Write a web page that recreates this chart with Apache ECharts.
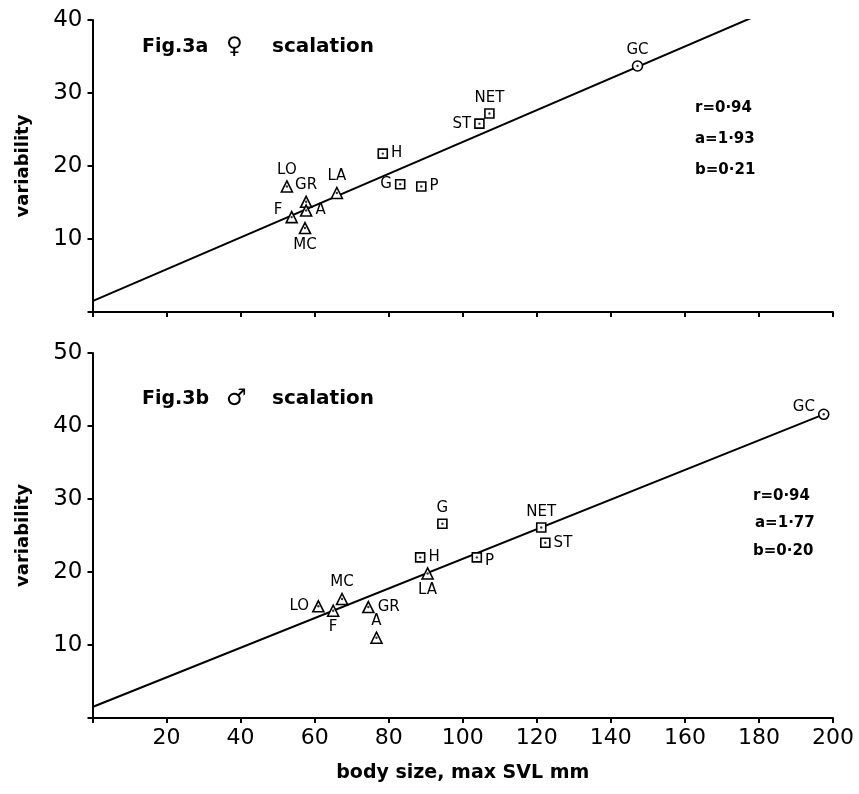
<!DOCTYPE html>
<html>
<head>
<meta charset="utf-8">
<script src="https://cdn.jsdelivr.net/npm/echarts@6/dist/echarts.min.js"></script>
<style>
html,body{margin:0;padding:0;background:#fff;}
#c{width:859px;height:794px;}
</style>
</head>
<body>
<div id="c"></div>
<script>
// ---- Data ----
// Fig.3a (female)
const topTriNames = ['LO', 'GR', 'A', 'F', 'LA', 'MC'];
const topTriX = [52.5, 57.7, 57.7, 53.8, 66.0, 57.4];
const topTriY = [17.2, 15.1, 13.9, 13.0, 16.3, 11.5];
const topSqNames = ['H', 'G', 'P', 'ST', 'NET'];
const topSqX = [78.4, 83.1, 88.8, 104.5, 107.2];
const topSqY = [21.7, 17.5, 17.2, 25.8, 27.2];
const topCircNames = ['GC'];
const topCircX = [147.2];
const topCircY = [33.7];
const topLineX = [0, 178];
const topLineY = [1.5, 40.3];
const topStats = ['r=0·94', 'a=1·93', 'b=0·21'];

// Fig.3b (male)
const botTriNames = ['LO', 'F', 'MC', 'GR', 'A', 'LA'];
const botTriX = [61.0, 65.0, 67.4, 74.5, 76.7, 90.5];
const botTriY = [15.3, 14.7, 16.3, 15.2, 11.0, 19.8];
const botSqNames = ['H', 'G', 'P', 'NET', 'ST'];
const botSqX = [88.5, 94.5, 103.8, 121.2, 122.3];
const botSqY = [22.0, 26.6, 22.0, 26.1, 24.0];
const botCircNames = ['GC'];
const botCircX = [197.5];
const botCircY = [41.6];
const botLineX = [0, 197.5];
const botLineY = [1.5, 41.6];
const botStats = ['r=0·94', 'a=1·77', 'b=0·20'];

// ---- Label placement (style only) ----
const topLabelPos = {GC:'top', NET:'top', ST:'left', H:'right', G:'left', P:'right',
  LA:'top', LO:'top', GR:'top', A:'right', F:'left', MC:'bottom'};
const botLabelPos = {GC:'left', NET:'top', ST:'right', H:'right', G:'top', P:'right',
  LA:'bottom', LO:'left', GR:'right', A:'top', F:'bottom', MC:'top'};
const labelOffset = {top: {F:[0,-7]}, bot: {GC:[0,-7], P:[0,4]}};

const FONT = 'DejaVu Sans';

function pts(names, xs, ys, posMap, offMap) {
  return xs.map((x, i) => {
    const n = names[i];
    const item = {value: [x, ys[i]], name: n};
    item.label = {show: !!n, position: posMap[n] || 'top'};
    if (offMap[n]) item.label.offset = offMap[n];
    return item;
  });
}
function plain(xs, ys) { return xs.map((x, i) => [x, ys[i]]); }

const labelStyle = {show: true, formatter: '{b}', color: '#000', fontFamily: FONT, fontSize: 15, distance: 3};

function markerSeries(idx, data, symbol, size) {
  return [{
    type: 'scatter', xAxisIndex: idx, yAxisIndex: idx, data: data,
    symbol: symbol, symbolSize: size,
    itemStyle: {color: '#fff', borderColor: '#000', borderWidth: 1.6, opacity: 1},
    label: labelStyle, z: 3, silent: true
  }, {
    type: 'scatter', xAxisIndex: idx, yAxisIndex: idx,
    data: data.map(d => ({value: d.value})),
    symbol: 'circle', symbolSize: 2.4,
    itemStyle: {color: '#000'}, z: 4, silent: true
  }];
}

function lineSeries(idx, data) {
  return {type: 'line', xAxisIndex: idx, yAxisIndex: idx, data: data, symbol: 'none',
    lineStyle: {color: '#000', width: 2}, z: 2, silent: true};
}

const gridLeft = 92.5, gridWidth = 740.5;

function xAxisDef(idx, showLabels) {
  return {
    type: 'value', gridIndex: idx, min: 0, max: 200, interval: 20,
    axisLine: {show: true, onZero: false, lineStyle: {color: '#000', width: 2}},
    axisTick: {show: true, length: 5, lineStyle: {color: '#000', width: 2}},
    axisLabel: {show: showLabels, color: '#000', fontFamily: FONT, fontSize: 22, margin: 9,
      formatter: v => (v === 0 ? '' : String(v))},
    splitLine: {show: false},
    name: showLabels ? 'body size, max SVL mm' : '',
    nameLocation: 'middle', nameGap: 46,
    nameTextStyle: {color: '#000', fontFamily: FONT, fontSize: 19, fontWeight: 'bold'}
  };
}
function yAxisDef(idx, max) {
  return {
    type: 'value', gridIndex: idx, min: 0, max: max, interval: 10,
    axisLine: {show: true, onZero: false, lineStyle: {color: '#000', width: 2}},
    axisTick: {show: true, length: 5, lineStyle: {color: '#000', width: 2}},
    axisLabel: {color: '#000', fontFamily: FONT, fontSize: 23, margin: 10,
      formatter: v => (v === 0 ? '' : String(v))},
    splitLine: {show: false},
    name: 'variability', nameLocation: 'middle', nameGap: 60,
    nameTextStyle: {color: '#000', fontFamily: FONT, fontSize: 18, fontWeight: 'bold'}
  };
}

function statTexts(xs, ys, lines) {
  return lines.map((s, i) => ({
    type: 'text', left: xs[i], top: ys[i] - 9,
    style: {text: s, fill: '#000', font: 'bold 15px "DejaVu Sans"'}
  }));
}
function titleTexts(y, fig, sym) {
  return [
    {type: 'text', left: 142, top: y - 12, style: {text: fig, fill: '#000', font: 'bold 19px "DejaVu Sans"'}},
    {type: 'text', left: 226, top: y - 14, style: {text: sym, fill: '#000', font: 'bold 23px "DejaVu Sans"'}},
    {type: 'text', left: 272, top: y - 13, style: {text: 'scalation', fill: '#000', font: 'bold 20px "DejaVu Sans"'}}
  ];
}

const chart = echarts.init(document.getElementById('c'), null, {renderer: 'canvas'});
chart.setOption({
  animation: false,
  backgroundColor: '#fff',
  grid: [
    {left: gridLeft, width: gridWidth, top: 20, height: 292},
    {left: gridLeft, width: gridWidth, top: 353, height: 365}
  ],
  xAxis: [xAxisDef(0, false), xAxisDef(1, true)],
  yAxis: [yAxisDef(0, 40), yAxisDef(1, 50)],
  series: [
    lineSeries(0, plain(topLineX, topLineY)),
    ...markerSeries(0, pts(topTriNames, topTriX, topTriY, topLabelPos, labelOffset.top), 'triangle', 11),
    ...markerSeries(0, pts(topSqNames, topSqX, topSqY, topLabelPos, labelOffset.top), 'rect', 9),
    ...markerSeries(0, pts(topCircNames, topCircX, topCircY, topLabelPos, labelOffset.top), 'circle', 10),
    lineSeries(1, plain(botLineX, botLineY)),
    ...markerSeries(1, pts(botTriNames, botTriX, botTriY, botLabelPos, labelOffset.bot), 'triangle', 11),
    ...markerSeries(1, pts(botSqNames, botSqX, botSqY, botLabelPos, labelOffset.bot), 'rect', 9),
    ...markerSeries(1, pts(botCircNames, botCircX, botCircY, botLabelPos, labelOffset.bot), 'circle', 10)
  ],
  graphic: [
    ...titleTexts(50, 'Fig.3a', '\u2640'),
    ...titleTexts(402, 'Fig.3b', '\u2642'),
    ...statTexts([695, 695, 695], [110, 141, 172], topStats),
    ...statTexts([753, 755, 753], [498, 525, 553], botStats)
  ]
});
</script>
</body>
</html>
